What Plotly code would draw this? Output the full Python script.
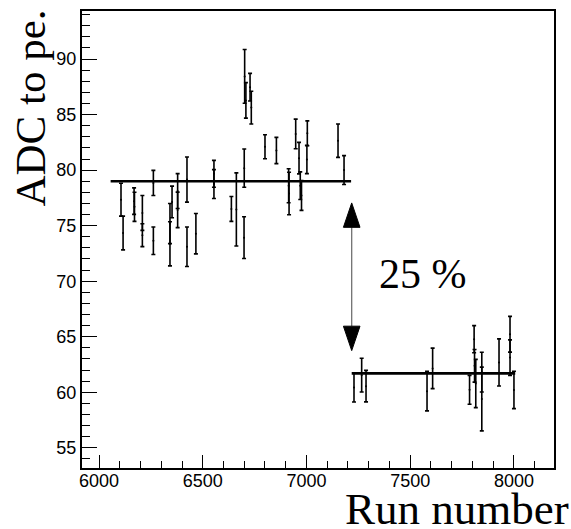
import plotly.graph_objects as go

# ---- data ----
run_left = [6106, 6116, 6169, 6171, 6209, 6209, 6262, 6262, 6342, 6342, 6352, 6379, 6379,
            6424, 6424, 6467, 6554, 6554, 6638, 6662, 6700, 6699, 6702, 6708, 6728, 6734,
            6800, 6855, 6914, 6916, 6948, 6964, 6970, 6976, 7004, 7002, 7152, 7181]
adc_left = [77.34, 74.34, 77.21, 76.70, 76.15, 74.14, 78.85, 73.64, 75.19, 73.37, 77.14, 78.12, 76.42,
            79.15, 73.10, 74.28, 79.67, 78.75, 76.51, 76.46, 80.18, 73.92, 88.44, 86.28, 87.47, 85.63,
            82.11, 81.77, 78.59, 77.90, 83.26, 81.08, 78.60, 77.72, 83.32, 80.96, 82.65, 80.01]
err_left = [1.48, 1.52, 1.19, 1.31, 1.57, 1.03, 1.13, 1.24, 1.81, 1.99, 1.42, 1.57, 1.60,
            2.03, 1.78, 1.82, 1.21, 1.30, 1.12, 3.29, 1.72, 1.88, 2.42, 1.60, 1.24, 1.47,
            1.08, 1.18, 1.53, 1.91, 1.33, 1.42, 1.24, 1.34, 1.12, 1.27, 1.50, 1.30]

run_right = [7229, 7266, 7287, 7581, 7608, 7786, 7808, 7810, 7816, 7845, 7845, 7928, 7981, 7981, 8000]
adc_right = [60.42, 61.54, 60.55, 60.10, 62.15, 60.22, 64.78, 62.38, 60.79, 61.81, 59.39, 62.69,
             65.22, 63.12, 60.21]
err_right = [1.30, 1.52, 1.42, 1.78, 1.82, 1.30, 1.22, 1.47, 2.17, 1.79, 2.87, 2.12, 1.61, 1.60, 1.68]

fit_left_x = [6056, 7215]
fit_left_y = 79.0
fit_right_x = [7218, 8006]
fit_right_y = 61.7

x_ticks = [6000, 6500, 7000, 7500, 8000]
y_ticks = [55, 60, 65, 70, 75, 80, 85, 90]

arrow_x = 7218
arrow_top = 77.05
arrow_bottom = 63.75
head_len = 2.2
head_half = 40

# ---- figure ----
W, H = 571, 529
ML, MR, MT, MB = 82, 17, 9, 61
PW, PH = W - ML - MR, H - MT - MB

fig = go.Figure()

for xs, ys, es in [(run_left, adc_left, err_left), (run_right, adc_right, err_right)]:
    fig.add_trace(go.Scatter(
        x=xs, y=ys, mode="markers",
        marker=dict(color="black", size=2),
        error_y=dict(type="data", array=es, visible=True, color="black", thickness=1.6, width=2),
        showlegend=False,
    ))

fig.add_trace(go.Scatter(x=fit_left_x, y=[fit_left_y] * 2, mode="lines",
                         line=dict(color="black", width=2.6), showlegend=False))
fig.add_trace(go.Scatter(x=fit_right_x, y=[fit_right_y] * 2, mode="lines",
                         line=dict(color="black", width=2.6), showlegend=False))

# double arrow
fig.add_shape(type="line", x0=arrow_x, x1=arrow_x, y0=arrow_bottom + head_len, y1=arrow_top - head_len,
              xref="x", yref="y", line=dict(color="#666666", width=1.2))
fig.add_shape(type="path", xref="x", yref="y", fillcolor="black", line=dict(color="black", width=1),
              path=f"M {arrow_x - head_half},{arrow_top - head_len} L {arrow_x},{arrow_top} "
                   f"L {arrow_x + head_half},{arrow_top - head_len} Z")
fig.add_shape(type="path", xref="x", yref="y", fillcolor="black", line=dict(color="black", width=1),
              path=f"M {arrow_x - head_half},{arrow_bottom + head_len} L {arrow_x},{arrow_bottom} "
                   f"L {arrow_x + head_half},{arrow_bottom + head_len} Z")

serif = "Liberation Serif, Times New Roman, serif"
sans = "Liberation Sans, Arial, sans-serif"

def px_x(p):
    return (p - ML) / PW

def px_y(p):
    return 1 - (p - MT) / PH

fig.add_annotation(text="25 %", x=px_x(423), y=px_y(273), xref="paper", yref="paper",
                   showarrow=False, xanchor="center", yanchor="middle",
                   font=dict(family=serif, size=42, color="black"))
fig.add_annotation(text="ADC to pe.", x=px_x(31), y=px_y(6), xref="paper", yref="paper",
                   showarrow=False, xanchor="center", yanchor="top", textangle=-90,
                   font=dict(family=serif, size=43, color="black"))
fig.add_annotation(text="Run number", x=px_x(571), y=px_y(536), xref="paper", yref="paper",
                   showarrow=False, xanchor="right", yanchor="bottom",
                   font=dict(family=serif, size=45, color="black"))

fig.update_xaxes(range=[5918, 8193], tickvals=x_ticks, ticktext=[str(v) for v in x_ticks],
                 ticks="inside", ticklen=13, tickwidth=1, tickcolor="black",
                 minor=dict(ticks="inside", ticklen=7, dtick=100, tick0=6000, tickcolor="black", tickwidth=1),
                 showline=True, linecolor="black", linewidth=2, mirror=True,
                 showgrid=False, zeroline=False, ticklabelstandoff=-5,
                 tickfont=dict(family=sans, size=18, color="black"))
fig.update_yaxes(range=[53.18, 94.33], tickvals=y_ticks, ticktext=[str(v) for v in y_ticks],
                 ticks="inside", ticklen=15, tickwidth=1, tickcolor="black",
                 minor=dict(ticks="inside", ticklen=8, dtick=1, tick0=55, tickcolor="black", tickwidth=1),
                 showline=True, linecolor="black", linewidth=2, mirror=True,
                 showgrid=False, zeroline=False,
                 tickfont=dict(family=sans, size=18, color="black"))

fig.update_layout(width=W, height=H, margin=dict(l=ML, r=MR, t=MT, b=MB),
                  plot_bgcolor="white", paper_bgcolor="white")

fig.write_html("out.html", config={"displayModeBar": False},
               post_script="document.body.style.margin='0px';document.body.style.overflow='hidden';")
